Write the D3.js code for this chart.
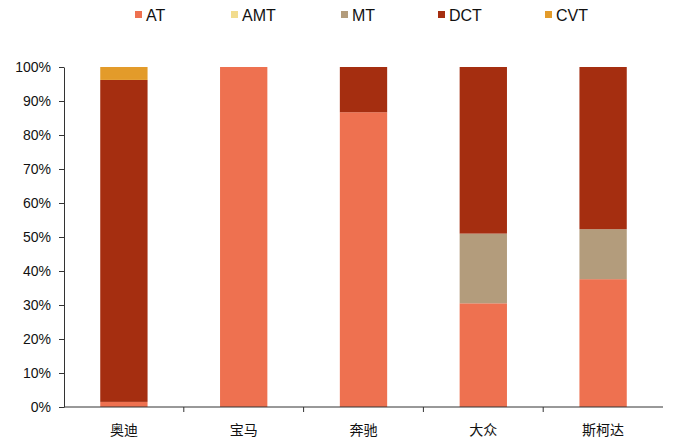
<!DOCTYPE html>
<html>
<head>
<meta charset="utf-8">
<script src="https://cdn.jsdelivr.net/npm/d3@7"></script>
<style>
  body { margin: 0; background: #fff; }
  svg text { font-family: "Liberation Sans", Arial, sans-serif; fill: #111; }
</style>
</head>
<body>
<svg id="chart"></svg>
<script>
// brands and gearbox shares (%)
const brands = ['奥迪', '宝马', '奔驰', '大众', '斯柯达'];
const seriesNames = ['AT', 'AMT', 'MT', 'DCT', 'CVT'];
const AT  = [1.5, 100, 86.7, 30.5, 37.6];
const AMT = [0, 0, 0, 0, 0];
const MT  = [0, 0, 0, 20.5, 14.7];
const DCT = [94.7, 0, 13.3, 49.0, 47.7];
const CVT = [3.8, 0, 0, 0, 0];
const yTicks = [0, 10, 20, 30, 40, 50, 60, 70, 80, 90, 100];

const colors = ['#ee7150', '#f2dc8e', '#b39c7c', '#a52e10', '#e39b2a'];

const width = 673, height = 443;
const margin = {top: 67, right: 10, bottom: 36, left: 64};

const svg = d3.select('#chart').attr('width', width).attr('height', height);

const rows = brands.map((b, i) => ({brand: b, AT: AT[i], AMT: AMT[i], MT: MT[i], DCT: DCT[i], CVT: CVT[i]}));
const stacked = d3.stack().keys(seriesNames)(rows);

const x = d3.scaleBand()
  .domain(brands)
  .range([margin.left, width - margin.right])
  .padding(0);
const y = d3.scaleLinear()
  .domain([0, 100])
  .range([height - margin.bottom, margin.top]);

const barW = x.bandwidth() * 0.395;

svg.append('g')
  .selectAll('g')
  .data(stacked)
  .join('g')
    .attr('fill', (d, i) => colors[i])
  .selectAll('rect')
  .data(d => d)
  .join('rect')
    .attr('x', d => x(d.data.brand) + (x.bandwidth() - barW) / 2)
    .attr('y', d => y(d[1]))
    .attr('height', d => y(d[0]) - y(d[1]))
    .attr('width', barW);

// y axis
const yAxis = svg.append('g')
  .attr('transform', `translate(${margin.left},0)`)
  .call(d3.axisLeft(y).tickValues(yTicks).tickFormat(d => d + '%').tickSize(5).tickSizeOuter(0).tickPadding(8));
yAxis.select('.domain').attr('stroke', '#333');
yAxis.selectAll('.tick line').attr('stroke', '#333');
yAxis.selectAll('.tick text').attr('font-size', 14).attr('font-family', '"Liberation Sans", Arial, sans-serif').attr('fill', '#111');

// x axis with ticks at category boundaries
const xAxisG = svg.append('g')
  .attr('transform', `translate(0,${height - margin.bottom})`);
xAxisG.append('line')
  .attr('x1', margin.left).attr('x2', width - margin.right)
  .attr('stroke', '#333');
xAxisG.selectAll('.bound')
  .data(brands.slice(1))
  .join('line')
    .attr('class', 'bound')
    .attr('x1', d => x(d)).attr('x2', d => x(d))
    .attr('y1', 0).attr('y2', 5)
    .attr('stroke', '#333');
xAxisG.selectAll('.lbl')
  .data(brands)
  .join('text')
    .attr('class', 'lbl')
    .attr('x', d => x(d) + x.bandwidth() / 2)
    .attr('y', 28)
    .attr('text-anchor', 'middle')
    .attr('font-size', 14)
    .style('font-family', '"Noto Sans CJK SC", sans-serif')
    .text(d => d);

// legend
const legendX = [135, 231, 341, 438, 545];
const legend = svg.append('g')
  .selectAll('g')
  .data(seriesNames)
  .join('g')
    .attr('transform', (d, i) => `translate(${legendX[i]},15)`);
legend.append('rect')
  .attr('x', 0).attr('y', -4)
  .attr('width', 7).attr('height', 7)
  .attr('fill', (d, i) => colors[i]);
legend.append('text')
  .attr('x', 11).attr('y', 6)
  .attr('font-size', 16)
  .text(d => d);
</script>
</body>
</html>
